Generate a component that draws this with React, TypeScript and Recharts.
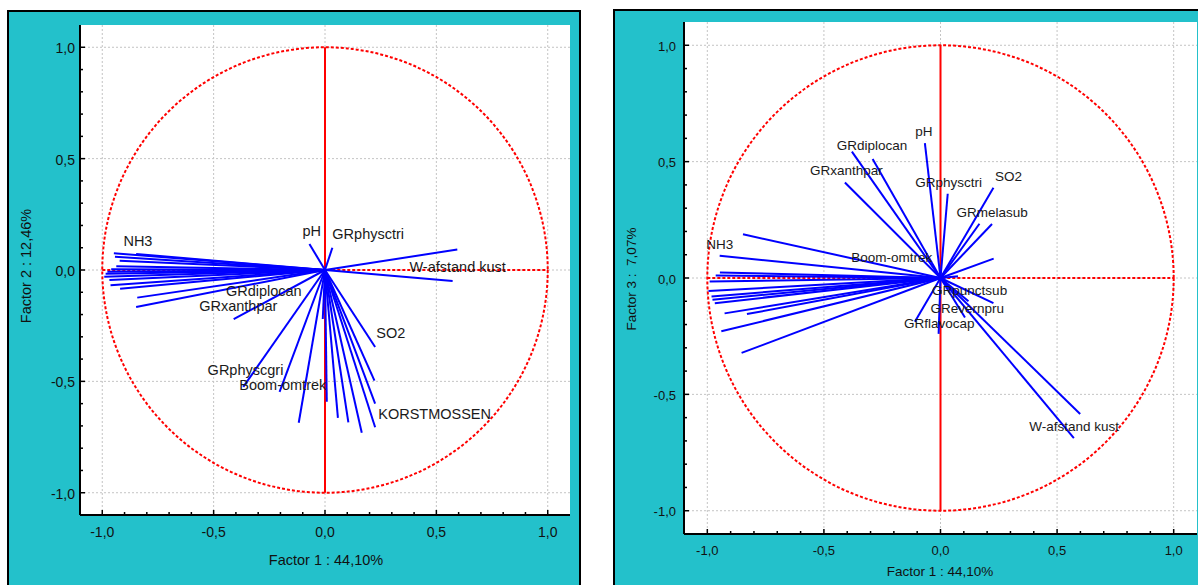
import React from "react";
import {
  ScatterChart,
  Scatter,
  XAxis,
  YAxis,
  CartesianGrid,
  ReferenceLine,
  ReferenceArea,
} from "recharts";

type Pt = { x: number; y: number };
type Lbl = { name: string; x: number; y: number };

const FONT = '"Liberation Sans", Arial, sans-serif';
const TEAL = "#23c1cb";

const MAJOR_TICKS = [-1, -0.5, 0, 0.5, 1];
const MINOR_TICKS = [
  -1, -0.9, -0.8, -0.7, -0.6, -0.5, -0.4, -0.3, -0.2, -0.1, 0, 0.1, 0.2, 0.3,
  0.4, 0.5, 0.6, 0.7, 0.8, 0.9, 1,
];

// Factor 1 x Factor 2 loadings
const F1_F2_LOADINGS: Pt[] = [
  { x: -0.948, y: 0.075 },
  { x: -0.943, y: 0.059 },
  { x: -0.848, y: 0.072 },
  { x: -0.922, y: 0.042 },
  { x: -0.937, y: 0.017 },
  { x: -0.96, y: 0.003 },
  { x: -0.977, y: -0.008 },
  { x: -0.985, y: -0.017 },
  { x: -0.991, y: -0.03 },
  { x: -0.968, y: -0.045 },
  { x: -0.963, y: -0.069 },
  { x: -0.92, y: -0.084 },
  { x: -0.843, y: -0.124 },
  { x: -0.848, y: -0.166 },
  { x: -0.41, y: -0.221 },
  { x: -0.367, y: -0.525 },
  { x: -0.204, y: -0.547 },
  { x: -0.118, y: -0.686 },
  { x: -0.01, y: -0.22 },
  { x: 0.008, y: -0.592 },
  { x: 0.058, y: -0.664 },
  { x: 0.105, y: -0.684 },
  { x: 0.165, y: -0.731 },
  { x: 0.225, y: -0.706 },
  { x: 0.225, y: -0.6 },
  { x: 0.222, y: -0.497 },
  { x: 0.225, y: -0.346 },
  { x: 0.594, y: 0.092 },
  { x: 0.573, y: -0.049 },
  { x: -0.07, y: 0.117 },
  { x: 0.033, y: 0.1 },
];

const F1_F2_LABELS: Lbl[] = [
  { name: "NH3", x: -0.905, y: 0.131 },
  { name: "pH", x: -0.101, y: 0.176 },
  { name: "GRphysctri", x: 0.033, y: 0.161 },
  { name: "W-afstand kust", x: 0.379, y: 0.013 },
  { name: "GRdiplocan", x: -0.445, y: -0.095 },
  { name: "GRxanthpar", x: -0.565, y: -0.162 },
  { name: "SO2", x: 0.23, y: -0.283 },
  { name: "GRphyscgri", x: -0.527, y: -0.45 },
  { name: "Boom-omtrek", x: -0.385, y: -0.516 },
  { name: "KORSTMOSSEN", x: 0.239, y: -0.648 },
];

// Factor 1 x Factor 3 loadings
const F1_F3_LOADINGS: Pt[] = [
  { x: -0.847, y: 0.188 },
  { x: -0.947, y: 0.096 },
  { x: -0.946, y: 0.024 },
  { x: -0.964, y: 0.011 },
  { x: -0.99, y: -0.015 },
  { x: -0.995, y: -0.056 },
  { x: -0.982, y: -0.079 },
  { x: -0.978, y: -0.093 },
  { x: -0.968, y: -0.108 },
  { x: -0.926, y: -0.152 },
  { x: -0.83, y: -0.155 },
  { x: -0.94, y: -0.229 },
  { x: -0.853, y: -0.322 },
  { x: -0.38, y: 0.543 },
  { x: -0.291, y: 0.511 },
  { x: -0.067, y: 0.58 },
  { x: -0.41, y: 0.41 },
  { x: 0.031, y: 0.362 },
  { x: 0.227, y: 0.388 },
  { x: 0.167, y: 0.233 },
  { x: 0.221, y: 0.232 },
  { x: 0.228, y: 0.083 },
  { x: 0.075, y: 0.008 },
  { x: 0.227, y: -0.108 },
  { x: 0.12, y: -0.1 },
  { x: 0.105, y: -0.17 },
  { x: -0.11, y: -0.188 },
  { x: -0.008, y: -0.24 },
  { x: 0.599, y: -0.584 },
  { x: 0.572, y: -0.688 },
];

const F1_F3_LABELS: Lbl[] = [
  { name: "GRdiplocan", x: -0.445, y: 0.568 },
  { name: "pH", x: -0.108, y: 0.629 },
  { name: "GRxanthpar", x: -0.56, y: 0.461 },
  { name: "GRphysctri", x: -0.108, y: 0.411 },
  { name: "SO2", x: 0.234, y: 0.437 },
  { name: "GRmelasub", x: 0.069, y: 0.28 },
  { name: "NH3", x: -1.005, y: 0.144 },
  { name: "Boom-omtrek", x: -0.383, y: 0.088 },
  { name: "GRpunctsub", x: -0.036, y: -0.053 },
  { name: "GRevernpru", x: -0.043, y: -0.131 },
  { name: "GRflavocap", x: -0.157, y: -0.197 },
  { name: "W-afstand kust", x: 0.381, y: -0.637 },
];

const ORIGIN: Pt = { x: 0, y: 0 };

const isMajor = (v: number) => MAJOR_TICKS.some((m) => Math.abs(m - v) < 1e-6);
const fmt = (v: number) => v.toFixed(1).replace(".", ",");

type TickOpts = { side: "bottom" | "top" | "left" | "right"; font: number; gap: number };

function makeTick({ side, font, gap }: TickOpts) {
  return (props: any) => {
    const { x, y, payload } = props;
    const v = payload.value as number;
    const len = isMajor(v) ? 5 : 3;
    let line = { x1: x, y1: y, x2: x, y2: y };
    if (side === "bottom") line.y2 = y - len;
    if (side === "top") line.y2 = y + len;
    if (side === "left") line.x2 = x + len;
    if (side === "right") line.x2 = x - len;
    const showText = isMajor(v) && (side === "bottom" || side === "left");
    return (
      <g>
        <line {...line} stroke="#000" strokeWidth={1.5} />
        {showText && side === "bottom" && (
          <text x={x} y={y + gap} textAnchor="middle" dominantBaseline="central" fontSize={font} fontFamily={FONT} fill="#111">
            {fmt(v)}
          </text>
        )}
        {showText && side === "left" && (
          <text x={x - gap} y={y + 1} textAnchor="end" dominantBaseline="central" fontSize={font} fontFamily={FONT} fill="#111">
            {fmt(v)}
          </text>
        )}
      </g>
    );
  };
}

type PlotProps = {
  loadings: Pt[];
  labels: Lbl[];
  width: number;
  height: number;
  margin: { top: number; right: number; left: number; bottom: number };
  yAxisWidth: number;
  xAxisHeight: number;
  font: number;
  labelFont: number;
  xGap: number;
  yGap: number;
};

function LoadingPlot(p: PlotProps) {
  const axisLine = { stroke: "#000", strokeWidth: 2 };
  const labelShape = (s: any) => (
    <text x={s.cx} y={s.cy} dominantBaseline="central" fontSize={p.labelFont} fontFamily={FONT} fill="#1a1a1a">
      {s.payload.name}
    </text>
  );
  return (
    <ScatterChart width={p.width} height={p.height} margin={p.margin}>
      <CartesianGrid
        fill="#fff"
        stroke="#c4c4c4"
        strokeDasharray="2 2"
        verticalValues={MAJOR_TICKS}
        horizontalValues={MAJOR_TICKS}
      />
      <XAxis
        type="number"
        dataKey="x"
        domain={[-1.1, 1.1]}
        ticks={MINOR_TICKS}
        interval={0}
        allowDataOverflow
        height={p.xAxisHeight}
        tickSize={0}
        tickMargin={0}
        tickLine={false}
        axisLine={axisLine}
        tick={makeTick({ side: "bottom", font: p.font, gap: p.xGap })}
      />
      <XAxis
        xAxisId="top"
        orientation="top"
        type="number"
        domain={[-1.1, 1.1]}
        ticks={MINOR_TICKS}
        interval={0}
        allowDataOverflow
        height={0}
        tickSize={0}
        tickMargin={0}
        tickLine={false}
        axisLine={axisLine}
        tick={makeTick({ side: "top", font: p.font, gap: 0 })}
      />
      <YAxis
        type="number"
        dataKey="y"
        domain={[-1.1, 1.1]}
        ticks={MINOR_TICKS}
        interval={0}
        allowDataOverflow
        width={p.yAxisWidth}
        tickSize={0}
        tickMargin={0}
        tickLine={false}
        axisLine={axisLine}
        tick={makeTick({ side: "left", font: p.font, gap: p.yGap })}
      />
      <YAxis
        yAxisId="right"
        orientation="right"
        type="number"
        domain={[-1.1, 1.1]}
        ticks={MINOR_TICKS}
        interval={0}
        allowDataOverflow
        width={0}
        tickSize={0}
        tickMargin={0}
        tickLine={false}
        axisLine={axisLine}
        tick={makeTick({ side: "right", font: p.font, gap: 0 })}
      />
      {p.loadings.map((pt, i) => (
        <Scatter
          key={i}
          data={[ORIGIN, pt]}
          fill="#0000ff"
          line={{ stroke: "#0000ff", strokeWidth: 2 }}
          shape={() => <g />}
          isAnimationActive={false}
        />
      ))}
      <ReferenceArea
        x1={-1}
        x2={1}
        y1={-1}
        y2={1}
        ifOverflow="visible"
        shape={(r: any) => (
          <ellipse
            cx={r.x + r.width / 2}
            cy={r.y + r.height / 2}
            rx={Math.abs(r.width) / 2}
            ry={Math.abs(r.height) / 2}
            fill="none"
            stroke="#ff0000"
            strokeWidth={2}
            strokeDasharray="3 2"
          />
        )}
      />
      <ReferenceLine
        segment={[{ x: -1, y: 0 }, { x: 1, y: 0 }]}
        stroke="#ff0000"
        strokeWidth={2}
        strokeDasharray="3 2"
      />
      <ReferenceLine
        segment={[{ x: 0, y: -1 }, { x: 0, y: 1 }]}
        stroke="#ff0000"
        strokeWidth={2}
      />
      <Scatter data={p.labels} shape={labelShape} isAnimationActive={false} />
    </ScatterChart>
  );
}

function Title({ text, cx, cy, size, rotate }: { text: string; cx: number; cy: number; size: number; rotate?: boolean }) {
  return (
    <div
      style={{
        position: "absolute",
        left: cx,
        top: cy,
        transform: `translate(-50%, -50%)${rotate ? " rotate(-90deg)" : ""}`,
        fontFamily: FONT,
        fontSize: size,
        color: "#111",
        whiteSpace: "pre",
        lineHeight: 1,
      }}
    >
      {text}
    </div>
  );
}

export default function App() {
  return (
    <div
      style={{
        position: "absolute",
        left: 0,
        top: 0,
        width: 1198,
        height: 585,
        overflow: "hidden",
        background: "#fff",
      }}
    >
      <div
        style={{
          position: "absolute",
          left: 7,
          top: 10,
          width: 574,
          height: 620,
          background: TEAL,
          border: "2px solid #000",
          boxSizing: "border-box",
        }}
      />
      <div
        style={{
          position: "absolute",
          left: 613,
          top: 9,
          width: 640,
          height: 620,
          background: TEAL,
          border: "2px solid #000",
          boxSizing: "border-box",
        }}
      />
      <div style={{ position: "absolute", left: 0, top: 0 }}>
        <LoadingPlot
          loadings={F1_F2_LOADINGS}
          labels={F1_F2_LABELS}
          width={600}
          height={585}
          margin={{ top: 25, right: 30, left: 0, bottom: 0 }}
          yAxisWidth={80}
          xAxisHeight={70}
          font={14}
          labelFont={14.5}
          xGap={17}
          yGap={5}
        />
      </div>
      <div style={{ position: "absolute", left: 600, top: 0 }}>
        <LoadingPlot
          loadings={F1_F3_LOADINGS}
          labels={F1_F3_LABELS}
          width={598}
          height={585}
          margin={{ top: 22, right: 1, left: 0, bottom: 0 }}
          yAxisWidth={84}
          xAxisHeight={51}
          font={13}
          labelFont={13.5}
          xGap={16}
          yGap={8}
        />
      </div>
      <Title text="Factor 1 : 44,10%" cx={326} cy={560} size={14.5} />
      <Title text="Factor 2 : 12,46%" cx={26} cy={266} size={14.5} rotate />
      <Title text="Factor 1 : 44,10%" cx={940} cy={572} size={13.5} />
      <Title text="Factor 3 :  7,07%" cx={632} cy={279} size={13.5} rotate />
    </div>
  );
}
